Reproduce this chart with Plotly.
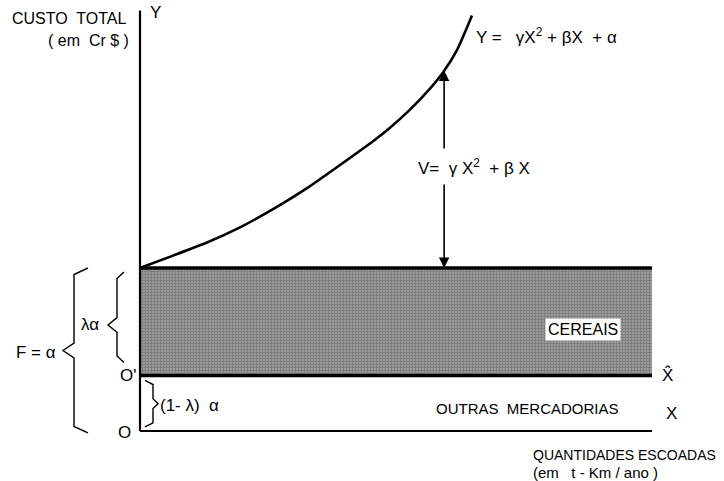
import numpy as np
import plotly.graph_objects as go

# --- data -----------------------------------------------------------------
# Total cost curve Y = γX² + βX + α (quantity shipped vs. total cost)
quantity = [0, 6.45, 13.09, 19.53, 25.98, 32.62, 39.06, 45.51, 48.83,
            52.73, 56.64, 59.18, 61.91, 64.84]
total_cost = [100, 107.6, 115.6, 124.9, 136.1, 149.0, 163.2, 177.8, 186.1,
              197.2, 210.1, 220.0, 233.7, 254.9]

fixed_cost = 100        # F = α
cereal_share = 0.66     # λ
x_end = 100             # end of the quantity axis
y_top = 258             # top of the cost axis
v_at = 59.4             # quantity where the variable cost V is marked

other_cost = (1 - cereal_share) * fixed_cost   # (1-λ)α

# --- figure geometry (pixel <-> data helpers for decorations) -------------
W, H = 724, 481
X_RANGE = [-140 / 5.12, (W - 140) / 5.12]
Y_RANGE = [(431 - H) / 1.63, 431 / 1.63]


def dx(px):
    return (px - 140) / 5.12


def pp(x, y):
    return x / W, 1 - y / H


FONT = "Liberation Sans, Arial, sans-serif"

fig = go.Figure()

# shaded fixed-cost band for cereals
fig.add_trace(go.Scatter(
    x=[0, x_end, x_end, 0, 0],
    y=[other_cost, other_cost, fixed_cost, fixed_cost, other_cost],
    mode="lines", fill="toself", line=dict(width=0),
    fillcolor="white",
    fillpattern=dict(shape=".", size=3, solidity=0.8,
                     fgcolor="#222222", bgcolor="#dddddd"),
    hoverinfo="skip", showlegend=False))

# band borders
for yv in (fixed_cost, other_cost):
    fig.add_trace(go.Scatter(x=[0, x_end], y=[yv, yv], mode="lines",
                             line=dict(color="black", width=3.5),
                             hoverinfo="skip", showlegend=False))

# axes
fig.add_trace(go.Scatter(x=[0, 0], y=[0, y_top], mode="lines",
                         line=dict(color="black", width=2.2),
                         hoverinfo="skip", showlegend=False))
fig.add_trace(go.Scatter(x=[0, x_end], y=[0, 0], mode="lines",
                         line=dict(color="black", width=2.2),
                         hoverinfo="skip", showlegend=False))

# total cost curve
fig.add_trace(go.Scatter(x=quantity, y=total_cost, mode="lines",
                         line=dict(color="black", width=2.6, shape="spline",
                                   smoothing=0.6),
                         hoverinfo="skip", showlegend=False))


# braces
def brace(x, y_hi, y_lo, tip_dx, hook_dx, y_tip=None, hook_dy=4.0, tip_dy=4.5):
    if y_tip is None:
        y_tip = (y_hi + y_lo) / 2
    pts = [
        (x + hook_dx, y_hi),
        (x, y_hi - hook_dy),
        (x, y_tip + tip_dy),
        (x + tip_dx, y_tip),
        (x, y_tip - tip_dy),
        (x, y_lo + hook_dy),
        (x + hook_dx, y_lo),
    ]
    return "M " + " L ".join(f"{a:.3f},{b:.3f}" for a, b in pts)


brace_style = dict(type="path", xref="x", yref="y",
                   line=dict(color="black", width=1.4))
fig.add_shape(path=brace(dx(74), fixed_cost, -1.2, dx(63) - dx(74),
                         dx(88) - dx(74)), **brace_style)
fig.add_shape(path=brace(dx(117), fixed_cost - 2.5, other_cost + 8,
                         dx(108) - dx(117), dx(124) - dx(117),
                         y_tip=(431 - 325) / 1.63), **brace_style)
fig.add_shape(path=brace(dx(153), other_cost - 3, 2.5,
                         dx(158) - dx(153), dx(145) - dx(153),
                         hook_dy=2.5, tip_dy=3), **brace_style)

# variable cost arrow V between band top and the curve
v_top = float(np.interp(v_at, quantity, total_cost))
gap_hi = (431 - 150) / 1.63
gap_lo = (431 - 183) / 1.63
arrow = dict(xref="x", yref="y", axref="x", ayref="y", text="",
             showarrow=True, arrowhead=2, arrowsize=1.3, arrowwidth=1.6,
             arrowcolor="black", standoff=0, startstandoff=0)
fig.add_annotation(x=v_at, y=v_top, ax=v_at, ay=gap_hi, **arrow)
fig.add_annotation(x=v_at, y=fixed_cost, ax=v_at, ay=gap_lo, **arrow)


# labels
def label(text, x, y, size=15, anchor="left", bg=None):
    xp, yp = pp(x, y)
    kw = {}
    if bg:
        kw = dict(bgcolor=bg, borderpad=2)
    fig.add_annotation(text=text, x=xp, y=yp, xref="paper", yref="paper",
                       xanchor=anchor, yanchor="middle", showarrow=False,
                       font=dict(family=FONT, size=size, color="black"), **kw)


label("CUSTO  TOTAL", 129, 18, 16, "right")
label("( em  Cr $ )", 131, 41, 16, "right")
label("Y", 148, 13, 17)
label("Y =   γX<sup>2</sup> + βX  + α", 474, 36, 17)
label("V=  γ X<sup>2</sup>  + β X", 416, 167, 17)
label("CEREAIS", 583, 329, 16, "center", bg="white")
label("X̂", 660, 375, 17)
label("OUTRAS  MERCADORIAS", 621, 408, 15, "right")
label("X", 664, 413, 17)
label("QUANTIDADES ESCOADAS", 531, 455, 14)
label("(em   t - Km / ano )", 531, 472, 15)
label("F = α", 14, 352, 17)
label("λα", 79, 324, 17)
label("O'", 118, 375, 17)
label("O", 116, 432, 17)
label("(1- λ)  α", 158, 405, 17)

fig.update_layout(
    width=W, height=H, autosize=False,
    margin=dict(l=0, r=0, t=0, b=0),
    paper_bgcolor="white", plot_bgcolor="white",
    xaxis=dict(range=X_RANGE, visible=False, fixedrange=True),
    yaxis=dict(range=Y_RANGE, visible=False, fixedrange=True),
    showlegend=False,
)

fig.write_html("out.html")
